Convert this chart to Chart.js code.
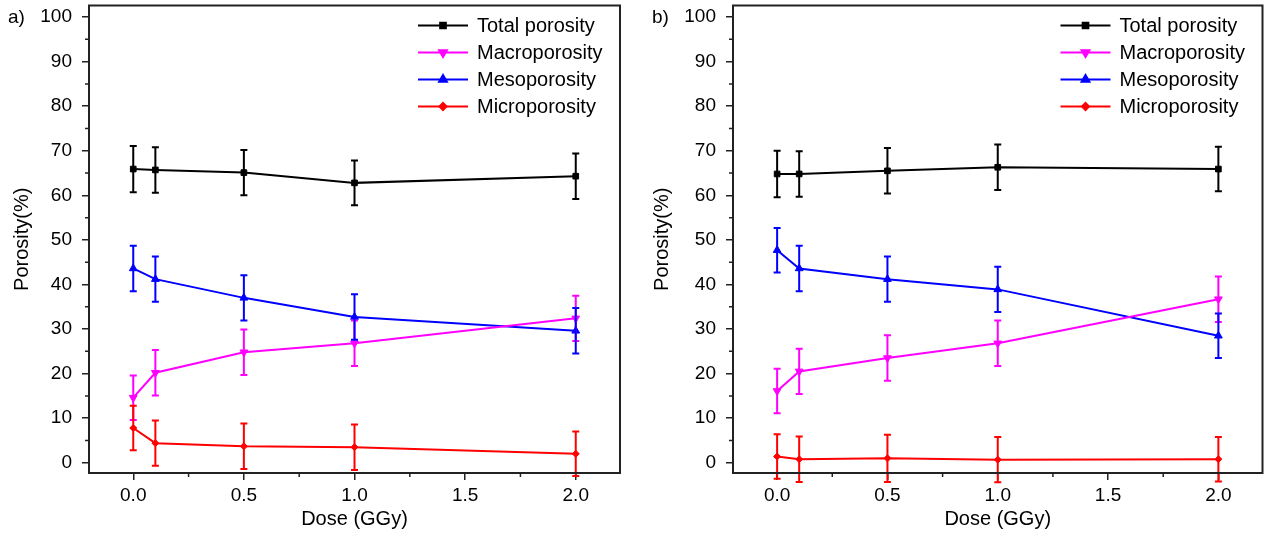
<!DOCTYPE html>
<html lang="en">
<head>
    <meta charset="UTF-8">
    <title>Porosity vs dose</title>
    <script src="https://cdn.jsdelivr.net/npm/chart.js"></script>
    <style>
        body {
            margin: 0;
            background: #fff;
        }
        .wrap {
            position: relative;
            width: 1268px;
            height: 533px;
            font-family: "Liberation Sans", Arial, sans-serif;
        }
        canvas {
            position: absolute;
            top: 0;
        }
        #chartA { left: 0; }
        #chartB { left: 640px; }
        .panel {
            position: absolute;
            top: 6px;
            font-size: 19px;
            color: #000;
        }
    </style>
</head>
<body>
<div class="wrap">
    <canvas id="chartA" width="634" height="533"></canvas>
    <canvas id="chartB" width="628" height="533"></canvas>
    <div class="panel" style="left:8px">a)</div>
    <div class="panel" style="left:652px">b)</div>
</div>

<script>
    // data
    const doses = [0, 0.1, 0.5, 1.0, 2.0];
    const seriesNames = ['Total porosity', 'Macroporosity', 'Mesoporosity', 'Microporosity'];
    const xTicks = [0, 0.5, 1.0, 1.5, 2.0];
    const xMinorTicks = [0.25, 0.75, 1.25, 1.75];
    const yTicks = [0, 10, 20, 30, 40, 50, 60, 70, 80, 90, 100];
    const yMinorTicks = [5, 15, 25, 35, 45, 55, 65, 75, 85, 95];

    // panel a)
    const totalA = [65.9, 65.7, 65.1, 62.8, 64.3];
    const totalAErr = [5.2, 5.1, 5.1, 5.0, 5.1];
    const macroA = [14.6, 20.2, 24.8, 26.8, 32.4];
    const macroAErr = [5.0, 5.1, 5.1, 5.1, 5.1];
    const mesoA = [43.6, 41.2, 37.0, 32.7, 29.6];
    const mesoAErr = [5.1, 5.1, 5.1, 5.1, 5.1];
    const microA = [7.8, 4.4, 3.7, 3.5, 2.0];
    const microAErr = [5.0, 5.1, 5.1, 5.1, 5.0];

    // panel b)
    const totalB = [64.8, 64.8, 65.5, 66.3, 65.9];
    const totalBErr = [5.2, 5.1, 5.1, 5.1, 5.0];
    const macroB = [16.1, 20.5, 23.5, 26.8, 36.7];
    const macroBErr = [5.0, 5.1, 5.1, 5.1, 5.1];
    const mesoB = [47.7, 43.6, 41.2, 38.9, 28.5];
    const mesoBErr = [5.0, 5.1, 5.1, 5.1, 5.0];
    const microB = [1.4, 0.8, 1.0, 0.7, 0.8];
    const microBErr = [5.0, 5.1, 5.3, 5.1, 5.0];

    const colors = ['#000000', '#ff00ff', '#0000ff', '#ff0000'];
    const styles = [
        { pointStyle: 'rect', rotation: 0, radius: 4 },
        { pointStyle: 'triangle', rotation: 180, radius: 4.5 },
        { pointStyle: 'triangle', rotation: 0, radius: 4.5 },
        { pointStyle: 'rectRot', rotation: 0, radius: 3.5 }
    ];
    const FONT = '"Liberation Sans", Arial, sans-serif';
    const AXIS = '#222';

    function makeDatasets(values, errors) {
        return values.map((vals, i) => ({
            label: seriesNames[i],
            data: doses.map((d, k) => ({ x: d, y: vals[k] })),
            errors: errors[i],
            borderColor: colors[i],
            backgroundColor: colors[i],
            borderWidth: 2,
            tension: 0,
            pointStyle: styles[i].pointStyle,
            pointRotation: styles[i].rotation,
            pointRadius: styles[i].radius,
            pointBorderWidth: 1,
            pointHoverRadius: styles[i].radius
        }));
    }

    // error bars drawn through the y scale
    const errorBars = {
        id: 'errorBars',
        afterDatasetsDraw(chart) {
            const ctx = chart.ctx;
            const xs = chart.scales.x, ys = chart.scales.y;
            ctx.save();
            chart.data.datasets.forEach(ds => {
                ctx.strokeStyle = ds.borderColor;
                ctx.lineWidth = 2;
                ds.data.forEach((p, k) => {
                    const e = ds.errors[k];
                    const x = xs.getPixelForValue(p.x);
                    const y1 = ys.getPixelForValue(p.y + e);
                    const y2 = ys.getPixelForValue(p.y - e);
                    ctx.beginPath();
                    ctx.moveTo(x, y1); ctx.lineTo(x, y2);
                    ctx.moveTo(x - 3.5, y1); ctx.lineTo(x + 3.5, y1);
                    ctx.moveTo(x - 3.5, y2); ctx.lineTo(x + 3.5, y2);
                    ctx.stroke();
                });
            });
            ctx.restore();
        }
    };

    // frame, minor ticks and legend inside the plot
    const decorations = {
        id: 'decorations',
        afterDraw(chart) {
            const ctx = chart.ctx;
            const a = chart.chartArea;
            const xs = chart.scales.x, ys = chart.scales.y;
            ctx.save();
            ctx.strokeStyle = AXIS;
            ctx.lineWidth = 2;
            ctx.strokeRect(a.left, a.top, a.right - a.left, a.bottom - a.top);

            ctx.lineWidth = 1.5;
            ctx.beginPath();
            yMinorTicks.forEach(v => {
                const y = ys.getPixelForValue(v);
                ctx.moveTo(a.left, y); ctx.lineTo(a.left - 4, y);
            });
            xMinorTicks.forEach(v => {
                const x = xs.getPixelForValue(v);
                ctx.moveTo(x, a.bottom); ctx.lineTo(x, a.bottom + 4);
            });
            ctx.stroke();

            ctx.font = '20px ' + FONT;
            ctx.textBaseline = 'middle';
            ctx.textAlign = 'left';
            chart.data.datasets.forEach((ds, i) => {
                const y = a.top + 20 + i * 27;
                const x0 = a.right - 202, x1 = a.right - 152;
                ctx.strokeStyle = ds.borderColor;
                ctx.fillStyle = ds.borderColor;
                ctx.lineWidth = 2;
                ctx.beginPath();
                ctx.moveTo(x0, y); ctx.lineTo(x1, y);
                ctx.stroke();
                Chart.helpers.drawPoint(ctx, {
                    pointStyle: styles[i].pointStyle,
                    rotation: styles[i].rotation,
                    radius: styles[i].radius,
                    borderWidth: 1
                }, (x0 + x1) / 2, y);
                ctx.fillStyle = '#000';
                ctx.fillText(ds.label, a.right - 143, y + 1);
            });
            ctx.restore();
        }
    };

    function createChart(id, datasets, yWidth, rightPad) {
        const ctx = document.getElementById(id).getContext('2d');
        return new Chart(ctx, {
            type: 'line',
            data: { datasets: datasets },
            plugins: [errorBars, decorations],
            options: {
                responsive: false,
                animation: false,
                layout: { padding: { top: 5, right: rightPad, left: 0, bottom: 0 } },
                plugins: {
                    legend: { display: false },
                    tooltip: { enabled: false }
                },
                scales: {
                    x: {
                        type: 'linear',
                        min: -0.2,
                        max: 2.2,
                        afterBuildTicks: s => { s.ticks = xTicks.map(v => ({ value: v })); },
                        afterFit: s => { s.height = 60; s.paddingLeft = 0; s.paddingRight = 0; },
                        border: { display: false },
                        grid: { drawOnChartArea: false, drawTicks: true, tickLength: 7, color: AXIS, lineWidth: 1.5 },
                        ticks: {
                            color: '#000',
                            padding: 4,
                            font: { family: FONT, size: 19 },
                            maxRotation: 0,
                            callback: v => v.toFixed(1)
                        },
                        title: {
                            display: true,
                            text: 'Dose (GGy)',
                            color: '#000',
                            font: { family: FONT, size: 20 },
                            padding: { top: 0, bottom: 2 }
                        }
                    },
                    y: {
                        min: -2.3,
                        max: 102.6,
                        afterBuildTicks: s => { s.ticks = yTicks.map(v => ({ value: v })); },
                        afterFit: s => { s.width = yWidth; s.paddingTop = 0; s.paddingBottom = 0; },
                        border: { display: false },
                        grid: { drawOnChartArea: false, drawTicks: true, tickLength: 7, color: AXIS, lineWidth: 1.5 },
                        ticks: {
                            color: '#000',
                            padding: 10,
                            font: { family: FONT, size: 19 },
                            callback: v => String(v)
                        },
                        title: {
                            display: true,
                            text: 'Porosity(%)',
                            color: '#000',
                            font: { family: FONT, size: 20 },
                            padding: { top: 10, bottom: 0 }
                        }
                    }
                }
            }
        });
    }

    createChart('chartA',
        makeDatasets([totalA, macroA, mesoA, microA], [totalAErr, macroAErr, mesoAErr, microAErr]),
        89, 14);
    createChart('chartB',
        makeDatasets([totalB, macroB, mesoB, microB], [totalBErr, macroBErr, mesoBErr, microBErr]),
        93, 5);
</script>
</body>
</html>
